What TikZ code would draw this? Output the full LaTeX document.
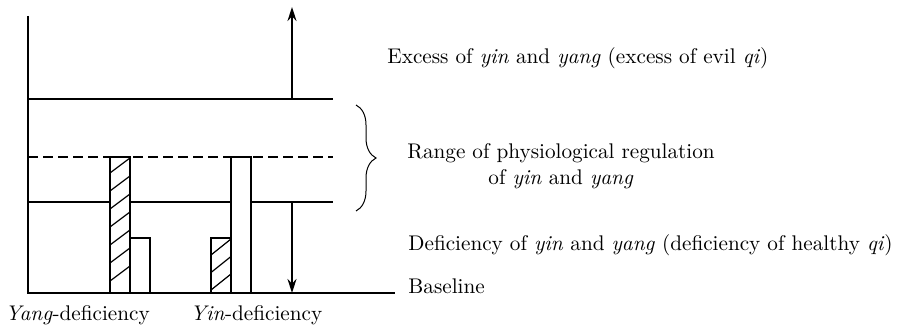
\documentclass[tikz,border=0pt]{standalone}
\usetikzlibrary{arrows.meta,decorations.pathreplacing}
\begin{document}
\begin{tikzpicture}[x=0.5pt,y=-0.5pt,
  axis/.style={line width=0.8pt},
  level/.style={line width=0.8pt},
  bar/.style={line width=0.8pt,fill=white},
  hatch/.style={line width=0.6pt},
  lbl/.style={anchor=base west,inner sep=0pt,font=\fontsize{10.6}{12.7}\selectfont},
  tip/.style={-{Stealth[length=7pt,width=4.5pt]},line width=0.8pt}]
\useasboundingbox (0,0) rectangle (897,330);

% axes
\coordinate (o) at (28,293);
\coordinate (ytop) at (28,16);
\coordinate (xend) at (395,293);
\draw[axis] (ytop) -- (o) -- (xend);

% levels
\coordinate (upL) at (28,99);  \coordinate (upR) at (333,99);
\coordinate (midL) at (28,157); \coordinate (midR) at (333,157);
\coordinate (lowL) at (28,202); \coordinate (lowR) at (333,202);
\draw[level] (upL) -- (upR);
\draw[level,dash pattern=on 5pt off 2.5pt] (midL) -- (midR);
\draw[level] (lowL) -- (lowR);

% bars: yang-deficiency pair
\draw[bar] (110,293) rectangle (130,157);
\begin{scope}
  \clip (110,293) rectangle (130,157);
  \foreach \k in {0,...,6}
    \draw[hatch] (110,{173+18*\k}) -- (130,{158+18*\k});
\end{scope}
\draw[bar,fill=none] (110,293) rectangle (130,157);
\draw[bar] (130,293) rectangle (150,238);

% bars: yin-deficiency pair
\draw[bar] (211,293) rectangle (231,238);
\begin{scope}
  \clip (211,293) rectangle (231,238);
  \foreach \k in {0,1,2}
    \draw[hatch] (211,{255+17.5*\k}) -- (231,{239+17.5*\k});
\end{scope}
\draw[bar,fill=none] (211,293) rectangle (231,238);
\draw[bar] (231,293) rectangle (251,157);

% arrows
\coordinate (upA) at (292,99);
\coordinate (upB) at (292,7);
\coordinate (dnA) at (292,202);
\coordinate (dnB) at (292,293);
\draw[tip] (upA) -- (upB);
\draw[tip] (dnA) -- (dnB);

% brace
\coordinate (brT) at (356,105);
\coordinate (brB) at (356,211);
\draw[line width=0.5pt,decorate,decoration={brace,amplitude=10pt}] (brT) -- (brB);

% labels
\node[lbl] (excess) at (387,64) {Excess of \textit{yin} and \textit{yang} (excess of evil \textit{qi})};
\node[lbl] (range1) at (407,159) {Range of physiological regulation};
\node[lbl] (range2) at (488,185) {of \textit{yin} and \textit{yang}};
\node[lbl] (defic) at (408,251) {Deficiency of \textit{yin} and \textit{yang} (deficiency of healthy \textit{qi})};
\node[lbl] (base) at (408,294) {Baseline};
\node[lbl] (yangd) at (5,321) {\textit{Yang}-deficiency};
\node[lbl] (yind) at (190,321) {\textit{Yin}-deficiency};
\end{tikzpicture}
\end{document}
